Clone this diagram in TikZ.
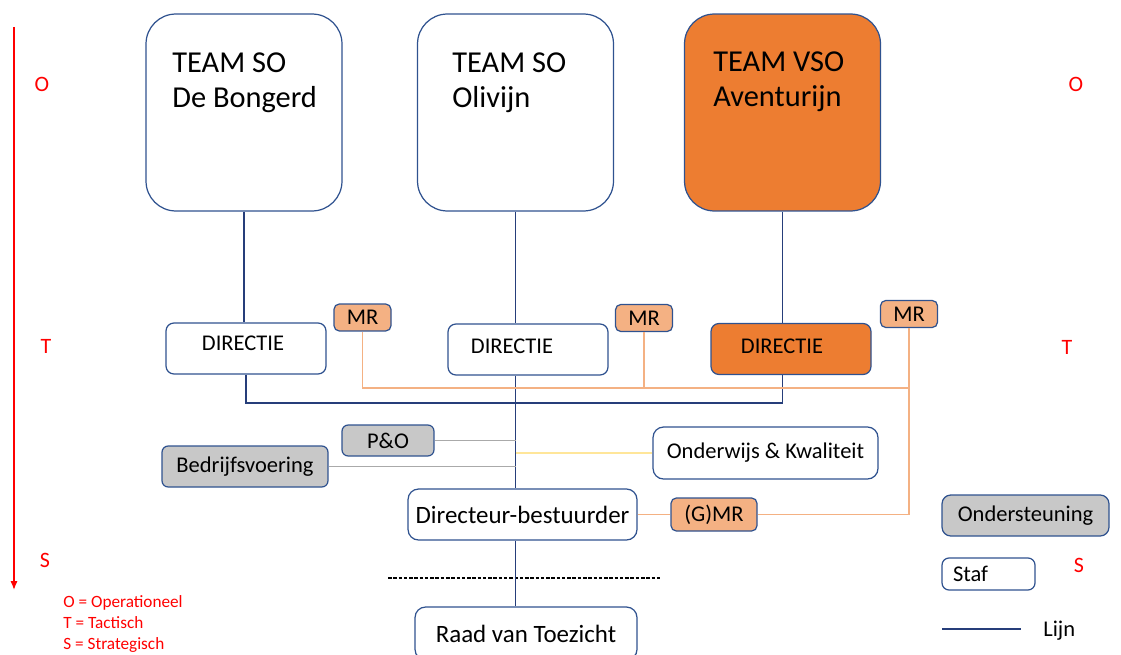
\documentclass[tikz,border=0pt]{standalone}
\usepackage{fontspec}
\setmainfont{Carlito}
\usepackage{xcolor}
\usepackage{tikz}
\usetikzlibrary{arrows.meta, positioning, calc}
\definecolor{boxblue}{RGB}{47, 82, 143}
\definecolor{teamorange}{RGB}{237, 125, 49}
\definecolor{mrorange}{RGB}{244, 177, 131}
\definecolor{stafgray}{RGB}{200, 200, 200}
\definecolor{lijnblue}{RGB}{38, 62, 122}
\definecolor{grayline}{RGB}{170, 170, 170}
\definecolor{okyellow}{RGB}{255, 230, 153}
\definecolor{levelred}{RGB}{255, 0, 0}

\newcommand{\teamfont}{\fontsize{17.3}{20.3}\selectfont}
\newcommand{\boxfont}{\fontsize{12.8}{15.4}\selectfont}
\newcommand{\bigboxfont}{\fontsize{14.2}{17}\selectfont}
\newcommand{\levelfont}{\fontsize{12.5}{15}\selectfont}
\newcommand{\legendfont}{\fontsize{9.8}{11.8}\selectfont}

\tikzset{
  teambox/.style={draw=boxblue, line width=0.7pt, rounded corners=17pt,
                  minimum width=3.92cm, minimum height=3.94cm, inner sep=0pt},
  teamtext/.style={align=left, inner sep=0pt, font=\teamfont, anchor=north west},
  dirbox/.style={draw=boxblue, line width=0.7pt, rounded corners=4.5pt,
                 minimum width=3.2cm, minimum height=1.02cm, inner sep=0pt},
  dirtext/.style={inner sep=0pt, font=\boxfont},
  smallbox/.style={draw=boxblue, line width=0.7pt, rounded corners=3.5pt,
                   inner sep=0pt, font=\boxfont},
  mrbox/.style={smallbox, rounded corners=3pt, fill=mrorange,
                minimum width=1.14cm, minimum height=0.54cm},
  stafbox/.style={smallbox, fill=stafgray},
  levellabel/.style={text=levelred, font=\levelfont, inner sep=0pt},
  lijn/.style={draw=lijnblue, line width=0.6pt},
  mrline/.style={draw=mrorange, line width=0.6pt},
  stafline/.style={draw=grayline, line width=0.7pt},
  okline/.style={draw=okyellow, line width=0.6pt}
}

\begin{document}
\begin{tikzpicture}[x=0.02cm, y=-0.02cm]
    \useasboundingbox (0,0) rectangle (1121,655);
    % Level axis (O - T - S)
    \draw[levelred, line width=0.8pt, -{Latex[length=5pt, width=4pt]}]
        (14,27) -- (14,590);
    \node[levellabel] (lvlOl) at (42,84) {O};
    \node[levellabel] (lvlTl) at (46,346) {T};
    \node[levellabel] (lvlSl) at (45,560) {S};
    \node[levellabel] (lvlOr) at (1076,84) {O};
    \node[levellabel] (lvlTr) at (1067,347) {T};
    \node[levellabel] (lvlSr) at (1079,565) {S};
    \foreach \txt [count=\i] in {O = Operationeel, T = Tactisch, S = Strategisch} {
        \node[text=levelred, font=\legendfont, inner sep=0pt, anchor=base west]
            (leg\i) at (63,586+21*\i) {\txt};
    }
    % Teams
    \node[teambox] (team1) at (244,112.5) {};
    \node[teamtext] (team1txt) at (172,52) {TEAM SO\\De Bongerd};
    \node[teambox] (team2) at (515.5,112.5) {};
    \node[teamtext] (team2txt) at (452,52) {TEAM SO\\Olivijn};
    \node[teambox, fill=teamorange] (team3) at (782.5,112.5) {};
    \node[teamtext] (team3txt) at (713,51) {TEAM VSO\\Aventurijn};
    % Directies
    \node[dirbox] (dir1) at (246,348.5) {};
    \node[dirtext] (dir1txt) at (243,343) {DIRECTIE};
    \node[dirbox] (dir2) at (528,349.5) {};
    \node[dirtext] (dir2txt) at (512,346.5) {DIRECTIE};
    \node[dirbox, fill=teamorange] (dir3) at (791,349) {};
    \node[dirtext] (dir3txt) at (782,346) {DIRECTIE};
    % MR
    \node[mrbox] (mr1) at (362.5,317.5) {MR};
    \node[mrbox] (mr2) at (644,318) {MR};
    \node[mrbox] (mr3) at (909,314) {MR};
    % Staf and bestuur
    \node[stafbox, minimum width=1.84cm, minimum height=0.62cm] (po) at (388,440.5) {P\&O};
    \node[stafbox, minimum width=3.32cm, minimum height=0.82cm] (bv) at (245,466.5) {Bedrijfsvoering};
    \node[smallbox, rounded corners=6pt, minimum width=4.5cm, minimum height=1.04cm]
        (ok) at (765.5,453) {Onderwijs \& Kwaliteit};
    \node[smallbox, rounded corners=6pt, font=\bigboxfont, minimum width=4.58cm, minimum height=1.02cm]
        (db) at (522.5,514.5) {Directeur-bestuurder};
    \node[mrbox, minimum width=1.72cm, minimum height=0.66cm] (gmr) at (714,514.5) {(G)MR};
    \node[smallbox, rounded corners=6pt, font=\bigboxfont, minimum width=4.44cm, minimum height=1.06cm]
        (raad) at (526,633.5) {Raad van Toezicht};
    \draw[black, line width=0.6pt, dash pattern=on 2pt off 1pt] (388,578) -- (662,578);
    % Legend
    \node[stafbox, rounded corners=5pt, minimum width=3.34cm, minimum height=0.82cm]
        (onder) at (1025.5,515.5) {Ondersteuning};
    \node[smallbox, rounded corners=4pt, minimum width=1.86cm, minimum height=0.64cm,
        inner xsep=0.22cm, text width=1.42cm, align=left] (staf) at (988.5,574) {Staf};
    \coordinate (lijnstart) at (942,629);
    \coordinate (lijnend) at (1021,629);
    \draw[lijn] (lijnstart) -- (lijnend);
    \node[font=\boxfont, inner sep=0pt, anchor=west] (lijnlbl) at (1043,631) {Lijn};
    % Lines
    \draw[lijn] (team1.south) -- (team1.south |- dir1.north);
    \draw[lijn] (team2.south) -- (team2.south |- dir2.north);
    \draw[lijn] (team3.south) -- (team3.south |- dir3.north);
    \coordinate (lijnbus) at (782.5,403);
    \draw[lijn] (dir1.south) |- (lijnbus) -- (lijnbus |- dir3.south);
    \draw[lijn] (team2.south |- dir2.south) -- (team2.south |- db.north);
    \draw[lijn] (team2.south |- db.south) -- (team2.south |- raad.north);
    % MR lines
    \coordinate (mrbus) at (909,388);
    \draw[mrline] (mr1.south) |- (mrbus);
    \draw[mrline] (mr2.south) -- (mr2.south |- mrbus);
    \draw[mrline] (mr3.south) |- (gmr.east);
    \draw[mrline] (db.east) -- (gmr.west);
    % Staf lines
    \draw[stafline] (po.east) -- (po.east -| team2.south);
    \draw[stafline] (bv.east) -- (bv.east -| team2.south);
    \draw[okline] (team2.south |- ok.west) -- (ok.west);
\end{tikzpicture}
\end{document}
